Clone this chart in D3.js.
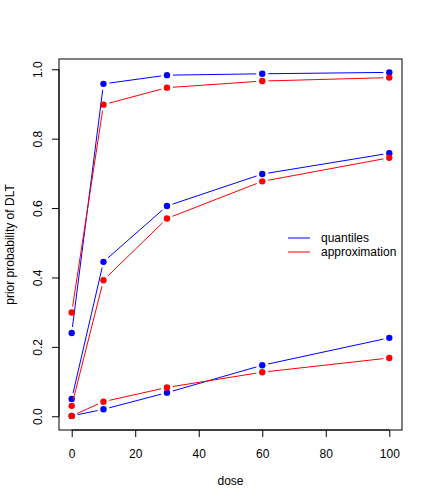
<!DOCTYPE html>
<html>
<head>
<meta charset="utf-8">
<script src="https://cdn.jsdelivr.net/npm/d3@7"></script>
<style>
  body { margin: 0; background: #fff; }
  text { font-family: "Liberation Sans", Arial, sans-serif; }
</style>
</head>
<body>
<svg id="chart"></svg>
<script>
// doses and prior probability curves (three quantile levels per series)
var doses = [0, 10, 30, 60, 100];

var quantilesHigh = [0.240, 0.958, 0.983, 0.987, 0.991];
var quantilesMid  = [0.050, 0.445, 0.606, 0.698, 0.758];
var quantilesLow  = [0.001, 0.020, 0.068, 0.147, 0.226];

var approxHigh = [0.299, 0.898, 0.947, 0.966, 0.976];
var approxMid  = [0.030, 0.392, 0.570, 0.677, 0.745];
var approxLow  = [0.001, 0.042, 0.083, 0.127, 0.168];

var xTicks = [0, 20, 40, 60, 80, 100];
var yTicks = [0, 0.2, 0.4, 0.6, 0.8, 1.0];
var legendLabels = ['quantiles', 'approximation'];

var width = 432,
    height = 504;

var svg = d3.select('#chart')
    .attr('width', width)
    .attr('height', height);

var plotLeft = 59, plotRight = 402, plotTop = 59, plotBottom = 430;

// R style: 4% padding on each side
var x = d3.scaleLinear().domain([-4, 104]).range([plotLeft, plotRight]);
var y = d3.scaleLinear().domain([-0.0396, 1.0296]).range([plotBottom, plotTop]);

// box
svg.append('rect')
  .attr('x', plotLeft)
  .attr('y', plotTop)
  .attr('width', plotRight - plotLeft)
  .attr('height', plotBottom - plotTop)
  .attr('fill', 'none')
  .attr('stroke', '#000')
  .attr('stroke-width', 1);

// x axis
var xAxis = svg.append('g')
  .attr('transform', 'translate(0,' + plotBottom + ')')
  .call(d3.axisBottom(x).tickValues(xTicks).tickSize(7).tickPadding(12).tickFormat(d3.format('d')));
xAxis.select('.domain')
  .attr('d', 'M' + x(0) + ',0H' + x(100));

// y axis, labels rotated like R default
var yAxis = svg.append('g')
  .attr('transform', 'translate(' + plotLeft + ',0)')
  .call(d3.axisLeft(y).tickValues(yTicks).tickSize(7).tickFormat(d3.format('.1f')));
yAxis.select('.domain')
  .attr('d', 'M0,' + y(0) + 'V' + y(1));
yAxis.selectAll('.tick text')
  .attr('x', 0)
  .attr('dy', 0)
  .attr('transform', 'translate(-17,0) rotate(-90)')
  .style('text-anchor', 'middle');

svg.selectAll('.tick text')
  .attr('font-size', 12)
  .attr('fill', '#000')
  .style('font-family', '"Liberation Sans", Arial, sans-serif');
svg.selectAll('.tick line').attr('stroke', '#000');
svg.selectAll('.domain').attr('stroke', '#000');

// axis titles
svg.append('text')
  .text('dose')
  .attr('x', (plotLeft + plotRight) / 2)
  .attr('y', 485)
  .attr('font-size', 12)
  .style('text-anchor', 'middle');

svg.append('text')
  .text('prior probability of DLT')
  .attr('transform', 'translate(14,' + ((plotTop + plotBottom) / 2) + ') rotate(-90)')
  .attr('font-size', 12)
  .style('text-anchor', 'middle');

// type = "b": segments with gaps around the points
var gap = 6;
function drawSeries(values, color) {
  var pts = doses.map(function(d, i) { return [x(d), y(values[i])]; });
  var g = svg.append('g');
  for (var i = 0; i < pts.length - 1; i++) {
    var p = pts[i], q = pts[i + 1];
    var dx = q[0] - p[0], dy = q[1] - p[1];
    var len = Math.sqrt(dx * dx + dy * dy);
    if (len <= 2 * gap) continue;
    var ux = dx / len, uy = dy / len;
    g.append('line')
      .attr('x1', p[0] + ux * gap)
      .attr('y1', p[1] + uy * gap)
      .attr('x2', q[0] - ux * gap)
      .attr('y2', q[1] - uy * gap)
      .attr('stroke', color)
      .attr('stroke-width', 1);
  }
  g.selectAll('circle')
    .data(pts)
    .enter().append('circle')
    .attr('cx', function(d) { return d[0]; })
    .attr('cy', function(d) { return d[1]; })
    .attr('r', 3.2)
    .attr('fill', color);
}

[quantilesHigh, quantilesMid, quantilesLow].forEach(function(s) { drawSeries(s, '#0000ff'); });
[approxHigh, approxMid, approxLow].forEach(function(s) { drawSeries(s, '#ff0000'); });

// legend (no box)
var legendColors = ['#0000ff', '#ff0000'];
var legend = svg.append('g');
legendLabels.forEach(function(label, i) {
  var ly = 238 + i * 14;
  legend.append('line')
    .attr('x1', 288).attr('x2', 310)
    .attr('y1', ly).attr('y2', ly)
    .attr('stroke', legendColors[i])
    .attr('stroke-width', 1);
  legend.append('text')
    .text(label)
    .attr('x', 321)
    .attr('y', ly + 4)
    .attr('font-size', 12)
    .attr('fill', '#000');
});
</script>
</body>
</html>
